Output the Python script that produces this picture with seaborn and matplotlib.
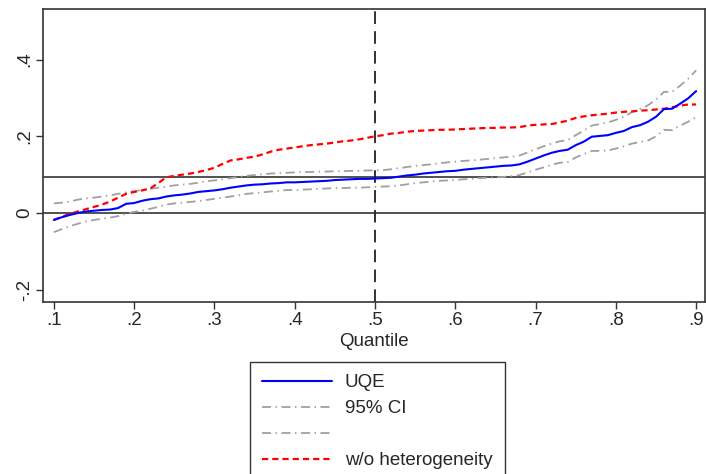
import numpy as np
import matplotlib
matplotlib.use("Agg")
import matplotlib.pyplot as plt
from matplotlib.lines import Line2D
import seaborn as sns

# quantiles 0.10 .. 0.90
quantile = [round(0.10 + 0.01 * i, 2) for i in range(81)]

uqe = [-0.018, -0.011, -0.005, 0.000, 0.004, 0.006, 0.008, 0.009, 0.013, 0.024,
       0.026, 0.032, 0.036, 0.038, 0.043, 0.046, 0.048, 0.051, 0.055, 0.057,
       0.059, 0.062, 0.066, 0.069, 0.072, 0.074, 0.075, 0.077, 0.078, 0.080,
       0.080, 0.081, 0.082, 0.083, 0.084, 0.086, 0.087, 0.088, 0.089, 0.089,
       0.090, 0.091, 0.092, 0.095, 0.098, 0.100, 0.103, 0.105, 0.107, 0.109,
       0.110, 0.113, 0.115, 0.117, 0.119, 0.121, 0.123, 0.124, 0.127, 0.134,
       0.142, 0.150, 0.157, 0.162, 0.165, 0.177, 0.186, 0.199, 0.201, 0.203,
       0.209, 0.214, 0.224, 0.229, 0.238, 0.251, 0.271, 0.272, 0.285, 0.299,
       0.318]

ci_upper = [0.025, 0.027, 0.030, 0.035, 0.038, 0.040, 0.043, 0.046, 0.050, 0.054,
            0.057, 0.060, 0.063, 0.066, 0.069, 0.072, 0.074, 0.076, 0.079, 0.083,
            0.085, 0.088, 0.091, 0.094, 0.097, 0.099, 0.101, 0.103, 0.104, 0.105,
            0.106, 0.107, 0.107, 0.108, 0.108, 0.109, 0.109, 0.110, 0.110, 0.111,
            0.111, 0.112, 0.114, 0.117, 0.120, 0.123, 0.125, 0.127, 0.130, 0.132,
            0.134, 0.136, 0.137, 0.139, 0.141, 0.143, 0.145, 0.147, 0.150, 0.158,
            0.166, 0.174, 0.181, 0.187, 0.190, 0.203, 0.215, 0.228, 0.232, 0.236,
            0.243, 0.251, 0.263, 0.271, 0.281, 0.296, 0.316, 0.316, 0.332, 0.350,
            0.372]

ci_lower = [-0.050, -0.042, -0.034, -0.028, -0.022, -0.018, -0.015, -0.012, -0.008, -0.002,
            0.003, 0.006, 0.011, 0.016, 0.022, 0.025, 0.027, 0.029, 0.031, 0.034,
            0.037, 0.040, 0.043, 0.046, 0.050, 0.052, 0.054, 0.056, 0.058, 0.060,
            0.060, 0.061, 0.062, 0.063, 0.064, 0.065, 0.065, 0.066, 0.066, 0.067,
            0.068, 0.069, 0.070, 0.072, 0.075, 0.078, 0.080, 0.082, 0.084, 0.085,
            0.086, 0.088, 0.089, 0.091, 0.092, 0.093, 0.094, 0.096, 0.099, 0.106,
            0.113, 0.119, 0.126, 0.131, 0.133, 0.145, 0.154, 0.162, 0.162, 0.163,
            0.168, 0.174, 0.181, 0.185, 0.189, 0.200, 0.217, 0.216, 0.228, 0.238,
            0.250]

no_het = [-0.018, -0.010, -0.002, 0.004, 0.010, 0.016, 0.022, 0.030, 0.040, 0.050,
          0.055, 0.059, 0.064, 0.078, 0.093, 0.097, 0.100, 0.103, 0.107, 0.112,
          0.118, 0.128, 0.137, 0.140, 0.144, 0.147, 0.153, 0.160, 0.165, 0.168,
          0.171, 0.174, 0.177, 0.179, 0.181, 0.184, 0.187, 0.189, 0.192, 0.196,
          0.200, 0.203, 0.207, 0.209, 0.212, 0.214, 0.215, 0.216, 0.217, 0.217,
          0.218, 0.219, 0.220, 0.221, 0.222, 0.222, 0.223, 0.223, 0.224, 0.228,
          0.230, 0.231, 0.232, 0.236, 0.241, 0.248, 0.252, 0.255, 0.257, 0.259,
          0.262, 0.264, 0.265, 0.267, 0.268, 0.270, 0.272, 0.276, 0.280, 0.283,
          0.283]

mean_effect = 0.094
median_q = 0.5

x_ticks = [0.1, 0.2, 0.3, 0.4, 0.5, 0.6, 0.7, 0.8, 0.9]
x_labels = [".1", ".2", ".3", ".4", ".5", ".6", ".7", ".8", ".9"]
y_ticks = [-0.2, 0.0, 0.2, 0.4]
y_labels = ["-.2", "0", ".2", ".4"]

sns.set_style("ticks")
plt.rcParams['font.family'] = ['Liberation Sans', 'DejaVu Sans']

FS = 13.5

fig = plt.figure(figsize=(7.06, 4.74), dpi=100)
ax = fig.add_axes([43 / 706, 1 - 302 / 474, 662 / 706, 293 / 474])

ci_style = (0, (5, 2.5, 0.8, 2.5))
red_style = (0, (2.8, 1.8))
grey = "#a0a0a0"

# reference lines
ax.axhline(0, color="#333333", lw=1.2, zorder=1)
ax.axhline(mean_effect, color="#333333", lw=1.2, zorder=1)
ax.axvline(median_q, color="#222222", lw=1.3, linestyle=(0, (7, 4)), zorder=1)

sns.lineplot(x=quantile, y=ci_upper, color=grey, lw=1.3, linestyle=ci_style, ax=ax, zorder=2)
sns.lineplot(x=quantile, y=ci_lower, color=grey, lw=1.3, linestyle=ci_style, ax=ax, zorder=2)
sns.lineplot(x=quantile, y=no_het, color="#ff0000", lw=1.6, linestyle=red_style, ax=ax, zorder=3)
sns.lineplot(x=quantile, y=uqe, color="#0000ff", lw=1.5, ax=ax, zorder=4)

ax.set_xlim(0.0865, 0.911)
ax.set_ylim(-0.232, 0.532)
ax.set_xticks(x_ticks)
ax.set_xticklabels(x_labels)
ax.set_yticks(y_ticks)
ax.set_yticklabels(y_labels, rotation=90, va="center")
ax.tick_params(axis="both", labelsize=FS, length=5, width=1, color="#333333", pad=2)
ax.set_xlabel("Quantile", fontsize=FS, labelpad=3)
ax.set_ylabel("")
for s in ax.spines.values():
    s.set_color("#333333")
    s.set_linewidth(1.2)

handles = [
    Line2D([], [], color="#0000ff", lw=1.5),
    Line2D([], [], color=grey, lw=1.3, linestyle=ci_style),
    Line2D([], [], color=grey, lw=1.3, linestyle=ci_style),
    Line2D([], [], color="#ff0000", lw=1.6, linestyle=red_style),
]
labels = ["UQE", "95% CI", " ", "w/o heterogeneity"]
leg = fig.legend(handles, labels, loc="upper left",
                 bbox_to_anchor=(250 / 706, 1 - 362 / 474),
                 fontsize=FS, frameon=True, fancybox=False, framealpha=1,
                 edgecolor="#333333", handlelength=3.7, handletextpad=0.7,
                 labelspacing=0.47, borderpad=0.65, borderaxespad=0)
leg.get_frame().set_linewidth(1.0)

fig.savefig("out.png", dpi=100)
